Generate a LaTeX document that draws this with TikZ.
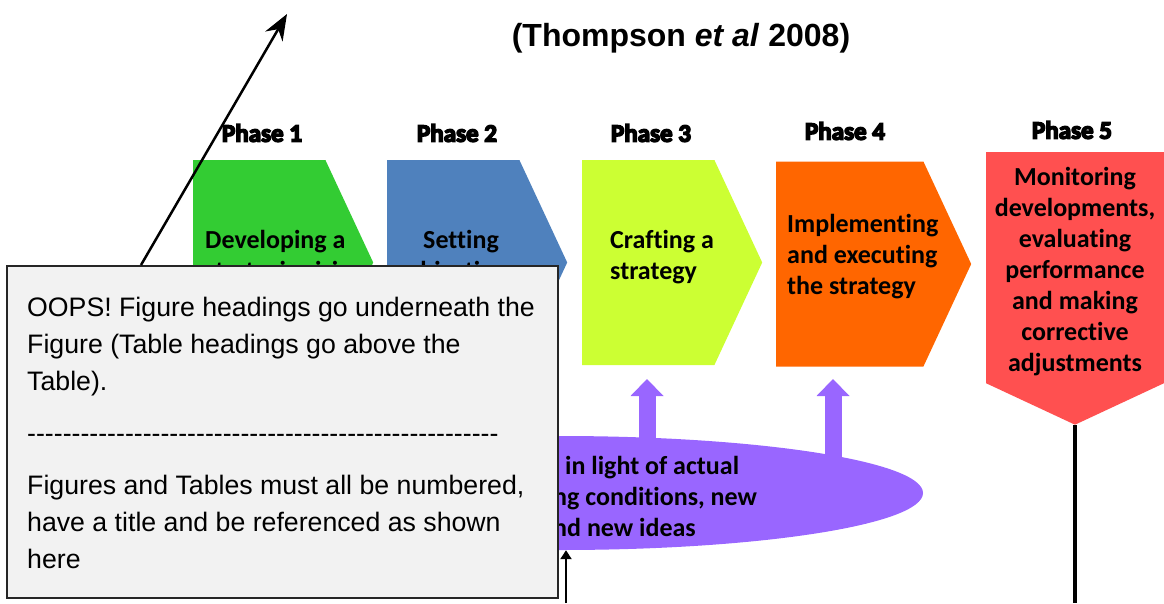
\documentclass[tikz,border=0pt]{standalone}
\usepackage{fontspec}
\setmainfont{Liberation Sans}
\newfontfamily\calibri{Carlito}[Ligatures=NoCommon]
\newfontfamily\heavy{Carlito Bold}[FakeBold=6, Ligatures=NoCommon]
\usetikzlibrary{shapes,arrows.meta}

\definecolor{visiongreen}{HTML}{33CC33}
\definecolor{objblue}{HTML}{4F81BD}
\definecolor{craftlime}{HTML}{CCFF33}
\definecolor{execorange}{HTML}{FF6600}
\definecolor{monitorred}{HTML}{FF5050}
\definecolor{revisepurple}{HTML}{9966FF}
\definecolor{notegray}{HTML}{F2F2F2}

\newcommand\dashrow{\foreach \i in {1,...,53}{-}}

\begin{document}
\begin{tikzpicture}[x=1pt, y=-1pt,
    text centered,
	chevron/.style={
	  signal,
	  signal to=east,
	  signal pointer angle=130,
	  minimum width=180pt,
	  minimum height=205pt,
	  inner sep=0pt,
	  anchor=west
	},
	heading/.style={
	  font=\heavy\fontsize{25}{30}\selectfont
	},
	label/.style={
	  font=\calibri\bfseries\fontsize{26}{31}\selectfont,
	  inner sep=0pt
	},
	bubble/.style={
	  ellipse,
	  fill=revisepurple,
	  minimum width=726pt,
	  minimum height=114pt,
	  inner sep=0pt
	},
	note/.style={
	  rectangle,
	  draw=black!85,
	  line width=1.5pt,
	  fill=notegray,
	  minimum width=551pt,
	  minimum height=332pt,
	  inner sep=0pt,
	  anchor=north west
	},
	lift/.style={draw=revisepurple, line width=17pt, -{Triangle[length=17pt, width=33pt, line width=0pt]}},
 	line/.style={draw, line width=2.5pt, -{Stealth[length=26pt, width=20pt]}},
 	feed/.style={draw, line width=2.5pt, -{Triangle[length=9pt, width=11pt]}}
	]
	\useasboundingbox (0, 0) rectangle (1164, 603);
	% the five phases
	\node at (193, 262.5) [chevron, fill=visiongreen] (vision) {};
	\node at (387, 262.5) [chevron, fill=objblue] (objectives) {};
	\node at (582, 262.5) [chevron, fill=craftlime] (crafting) {};
	\node at (776, 264) [chevron, fill=execorange, minimum width=195pt] (executing) {};
	\node at (1075, 152) [chevron, fill=monitorred, signal to=south, anchor=north, minimum width=178pt, minimum height=231pt] (monitoring) {};
	\node at (205, 257) [label, anchor=west, align=left] (visiontext) {Developing a\\strategic vision};
	\node at (461, 257) [label, align=center] (objtext) {Setting\\objectives};
	\node at (610, 257) [label, anchor=west, align=left] (crafttext) {Crafting a\\strategy};
	\node at (787, 257) [label, anchor=west, align=left] (exectext) {Implementing\\and executing\\the strategy};
	\node at (1075, 272) [label, align=center] (monitortext) {Monitoring\\developments,\\evaluating\\performance\\and making\\corrective\\adjustments};
	\node at (262, 133) [heading] (headone) {Phase 1};
	\node at (457, 133) [heading] (headtwo) {Phase 2};
	\node at (651, 133) [heading] (headthree) {Phase 3};
	\node at (845, 131) [heading] (headfour) {Phase 4};
	\node at (1072, 130) [heading] (headfive) {Phase 5};
	\node at (681, 38) [font=\bfseries\fontsize{32}{37}\selectfont] (source) {(Thompson \textit{et al} 2008)};
	% feedback loop
	\node at (560, 493) [bubble] (revise) {};
	\coordinate (liftthree) at (647, 379);
	\coordinate (liftfour) at (833, 379);
	\coordinate (footleft) at (566, 603);
	\coordinate (footright) at (1075, 603);
	\coordinate (target) at (287, 14);
	\path[lift] (liftthree |- revise.center) -- (liftthree);
	\path[lift] (liftfour |- revise.center) -- (liftfour);
	\node at (553, 496) [label, anchor=west, align=left] (revisetext) {\hspace*{12pt}in light of actual\\ng conditions, new\\nd new ideas};
	\path[draw, line width=3.5pt] (monitoring.south) -- (footright);
	\path[feed] (footleft) -- (footleft |- revise.south);
	% comment box on top
	\node at (6, 265) [note] (note) {};
	\path[line] ([xshift=135pt]note.north west) -- (target);
	\node at (27, 297) [anchor=north west, align=left, inner sep=0pt, font=\fontsize{26.7}{37}\selectfont] (notetext) {OOPS! Figure headings go underneath the\\Figure (Table headings go above the\\Table).\\[15pt]\dashrow\\[15pt]Figures and Tables must all be numbered,\\have a title and be referenced as shown\\here};
  \end{tikzpicture}
\end{document}
